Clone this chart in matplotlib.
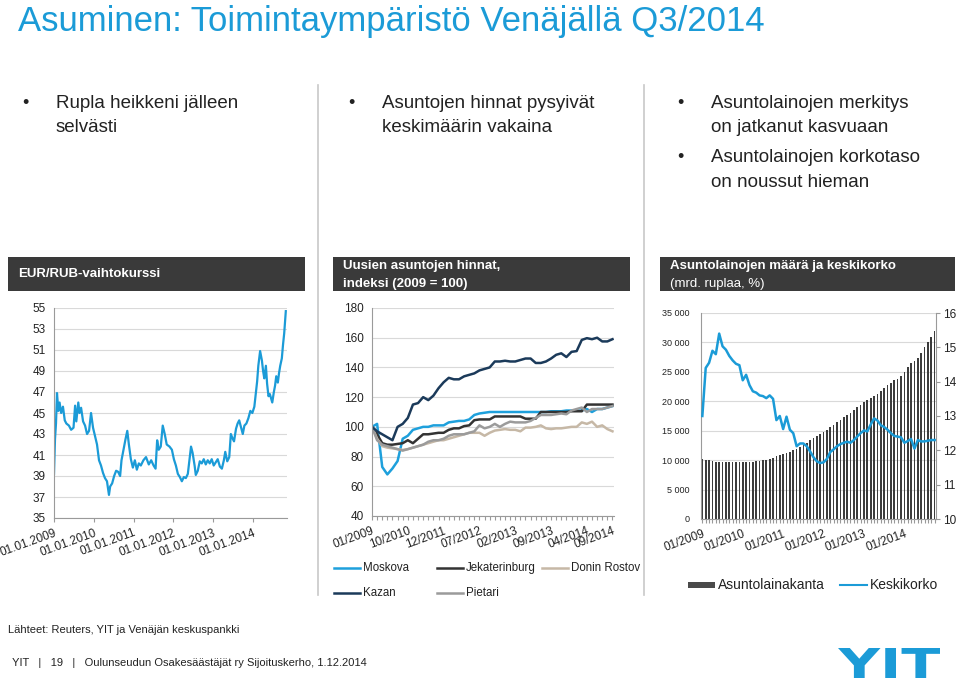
import matplotlib
matplotlib.use('Agg')
import matplotlib.pyplot as plt
from matplotlib.lines import Line2D
from matplotlib.patches import Rectangle, PathPatch
from matplotlib.textpath import TextPath
from matplotlib.font_manager import FontProperties
from matplotlib.transforms import Affine2D

plt.rcParams['font.family'] = ['Liberation Sans', 'DejaVu Sans']

############################### data ###############################

# EUR/RUB-vaihtokurssi (vuosi desimaalina, kurssi)
rub_year = [2009.00, 2009.025, 2009.05, 2009.075, 2009.11, 2009.14, 2009.18, 2009.225, 2009.27, 2009.31,
            2009.375, 2009.43, 2009.49, 2009.53, 2009.56, 2009.61, 2009.64, 2009.68, 2009.73, 2009.78,
            2009.83, 2009.88, 2009.93, 2009.98, 2010.03, 2010.08, 2010.13, 2010.18, 2010.23, 2010.28,
            2010.33, 2010.38, 2010.41, 2010.46, 2010.51, 2010.56, 2010.61, 2010.66, 2010.695, 2010.745,
            2010.795, 2010.84, 2010.88, 2010.93, 2010.98, 2011.03, 2011.08, 2011.13, 2011.18, 2011.245,
            2011.31, 2011.38, 2011.44, 2011.50, 2011.55, 2011.59, 2011.63, 2011.68, 2011.73, 2011.78,
            2011.83, 2011.90, 2011.96, 2012.01, 2012.06, 2012.11, 2012.16, 2012.21, 2012.26, 2012.31,
            2012.36, 2012.40, 2012.44, 2012.48, 2012.53, 2012.56, 2012.61, 2012.66, 2012.71, 2012.76,
            2012.81, 2012.86, 2012.91, 2012.96, 2013.01, 2013.06, 2013.11, 2013.165, 2013.215, 2013.265,
            2013.30, 2013.35, 2013.40, 2013.44, 2013.48, 2013.52, 2013.57, 2013.61, 2013.65, 2013.70,
            2013.74, 2013.78, 2013.83, 2013.88, 2013.93, 2013.98, 2014.03, 2014.07, 2014.10, 2014.13,
            2014.175, 2014.22, 2014.25, 2014.28, 2014.32, 2014.35, 2014.385, 2014.42, 2014.45, 2014.48,
            2014.52, 2014.55, 2014.58, 2014.62, 2014.65, 2014.68, 2014.72, 2014.75, 2014.78, 2014.82]
rub_rate = [39.2, 42.5, 44.0, 46.9, 45.2, 46.0, 45.0, 45.6, 44.3, 44.0,
            43.8, 43.4, 43.6, 45.7, 44.2, 46.0, 45.0, 45.5, 44.2, 43.8,
            43.0, 43.3, 45.0, 43.6, 42.8, 42.0, 40.5, 40.0, 39.3, 38.8,
            38.5, 37.2, 38.0, 38.3, 39.0, 39.5, 39.4, 39.0, 40.5, 41.5,
            42.5, 43.3, 42.0, 40.6, 39.8, 40.5, 39.6, 40.2, 40.0, 40.5,
            40.8, 40.1, 40.5, 40.0, 39.7, 42.4, 41.5, 41.8, 43.8, 43.0,
            42.0, 41.8, 41.5, 40.6, 40.0, 39.2, 38.9, 38.5, 38.9, 38.8,
            39.2, 40.5, 41.8, 41.2, 40.0, 39.1, 39.5, 40.4, 40.2, 40.6,
            40.1, 40.5, 40.2, 40.6, 40.0, 40.3, 40.6, 39.9, 39.7, 40.5,
            41.3, 40.4, 40.8, 43.0, 42.6, 42.3, 43.5, 44.0, 44.3, 43.6,
            43.0, 43.8, 44.0, 44.5, 45.2, 45.0, 45.6, 47.0, 48.0, 49.5,
            50.9, 50.0, 49.0, 48.3, 49.5, 47.8, 46.6, 46.8, 46.4, 46.0,
            47.0, 47.6, 48.5, 47.9, 48.8, 49.5, 50.2, 51.5, 52.6, 54.7]
rub_years = [2009, 2010, 2011, 2012, 2013, 2014]

# Uusien asuntojen hinnat, indeksi (2009 = 100)
price_periods = ['01/2009', '04/2009', '07/2009', '10/2009', '01/2010', '04/2010', '07/2010', '10/2010',
                 '12/2010', '02/2011', '04/2011', '06/2011', '08/2011', '10/2011', '12/2011',
                 '01/2012', '02/2012', '03/2012', '04/2012', '05/2012', '06/2012', '07/2012', '08/2012',
                 '09/2012', '10/2012', '11/2012', '12/2012', '01/2013', '02/2013', '03/2013', '04/2013',
                 '05/2013', '06/2013', '07/2013', '08/2013', '09/2013', '10/2013', '11/2013', '12/2013',
                 '01/2014', '02/2014', '03/2014', '04/2014', '05/2014', '06/2014', '07/2014', '08/2014',
                 '09/2014']
moskova = [100, 102, 73, 68, 72, 77, 92, 94, 98, 99, 100, 100, 101, 101, 101, 103,
           103.5, 104, 104, 105, 108, 109, 109.5, 110, 110, 110, 110, 110, 110, 110, 110, 110,
           110, 110, 110, 110.5, 110.5, 110.5, 111, 111, 111, 111, 112, 110, 112, 112, 113, 114]
jekaterinburg = [100, 95, 89, 88, 88, 88.5, 89, 91, 89, 92, 95, 95, 95.5, 96, 96, 98,
                 99, 99, 100.5, 101, 104.5, 105, 105, 105, 107, 107, 107, 107, 107, 107, 105.5, 105.5,
                 105.5, 110, 110, 110, 110, 110, 110, 110.5, 110.5, 110.5, 115, 115, 115, 115, 115, 115]
donin_rostov = [100, 92, 87, 86, 85.5, 85, 84.5, 85, 86, 87, 88, 89, 90, 91, 91, 92,
                93, 94, 95, 96, 96, 96, 94, 96, 97.5, 98, 98.5, 98, 98, 97, 99.5, 99.5,
                100, 101, 99, 98.5, 99, 99, 99.5, 100, 100, 103, 102, 103.5, 100, 101, 98.5, 97]
kazan = [100, 97, 95, 93, 91, 100, 102, 106, 115, 116, 120, 118, 121, 126, 130, 133,
         132, 132, 134, 135, 136, 138, 139, 140, 144, 144, 144.5, 144, 144, 145, 146, 146,
         143, 143, 144, 146, 148.5, 149.5, 147, 150.5, 151, 158.5, 159.7, 159, 160, 157.5, 157.5, 159]
pietari = [100, 91, 88, 87, 86, 85, 84, 85, 86, 87, 88, 90, 91, 91, 92, 94,
           95, 95, 95, 96, 97, 101, 99, 100, 102, 100, 102, 103.5, 103, 103, 103, 104,
           106, 108, 108, 108, 108.5, 109, 108.5, 111, 112, 113, 110, 112, 112, 112, 113, 114]

# Asuntolainojen määrä (mrd. ruplaa) ja keskikorko (%)
loan_periods = [f'{m:02d}/{y}' for y in range(2009, 2015) for m in range(1, 13)][:70]
loan_stock = [10200, 10100, 10000, 9850, 9750, 9700, 9650, 9650, 9650, 9650,
              9650, 9650, 9650, 9700, 9700, 9750, 9800, 9900, 10000, 10100,
              10250, 10400, 10650, 10900, 11100, 11250, 11400, 11650, 11900, 12200,
              12550, 12950, 13350, 13750, 14150, 14450, 14750, 15100, 15550, 16000,
              16450, 16850, 17250, 17650, 18050, 18550, 19000, 19400, 19850, 20150,
              20500, 20850, 21250, 21700, 22250, 22700, 23150, 23600, 23800, 24300,
              25000, 25800, 26500, 26800, 27400, 28200, 29300, 30100, 30900, 32000]
avg_rate = [13.0, 14.4, 14.55, 14.9, 14.8, 15.4, 15.03, 14.93, 14.75, 14.62,
            14.52, 14.48, 14.04, 14.2, 13.9, 13.72, 13.68, 13.6, 13.58, 13.52,
            13.6, 13.5, 12.88, 13.0, 12.62, 12.98, 12.6, 12.5, 12.12, 12.2,
            12.2, 12.12, 11.97, 11.8, 11.68, 11.63, 11.65, 11.75, 11.95, 12.03,
            12.12, 12.18, 12.22, 12.25, 12.22, 12.3, 12.4, 12.5, 12.58, 12.55,
            12.75, 12.93, 12.87, 12.73, 12.68, 12.6, 12.5, 12.42, 12.4, 12.38,
            12.22, 12.27, 12.33, 12.05, 12.3, 12.26, 12.26, 12.28, 12.3, 12.3]

############################### tyyli ###############################

BLUE = '#1b9bd7'
DARK = '#3a3a3a'
GRID = '#d9d9d9'
SPINE = '#9a9a9a'
TXT = '#222222'
city_colors = {'Moskova': '#1ea0dc', 'Jekaterinburg': '#333333', 'Donin Rostov': '#c6b8a6',
               'Kazan': '#1b3a5a', 'Pietari': '#9b9b9b'}

W, H = 960, 680
fig = plt.figure(figsize=(W / 100, H / 100), dpi=100)


def fx(x):
    return x / W


def fy(y):
    return 1 - y / H


def rect(x0, y0, x1, y1):  # pikselit (ylhäältä) -> figure-koordinaatit
    return [x0 / W, 1 - y1 / H, (x1 - x0) / W, (y1 - y0) / H]


def style_axes(ax):
    for s in ['top', 'right']:
        ax.spines[s].set_visible(False)
    for s in ['left', 'bottom']:
        ax.spines[s].set_color(SPINE)
    ax.grid(axis='y', color=GRID, lw=0.8)
    ax.set_axisbelow(True)
    ax.tick_params(axis='y', length=0, labelsize=8.5, labelcolor=TXT, pad=6)
    ax.tick_params(axis='x', length=3, color=SPINE, labelsize=8.5, labelcolor=TXT)


# otsikko
fig.text(fx(18), fy(31), 'Asuminen: Toimintaympäristö Venäjällä Q3/2014', fontsize=25,
         color=BLUE, va='baseline', ha='left')

# pystyviivat palstojen välissä
for x in [318, 644]:
    fig.add_artist(Line2D([fx(x), fx(x)], [fy(85), fy(595)], color='#c8c8c8', lw=1.2))

# luettelot
bullets = [(22, [(103, 'Rupla heikkeni jälleen'), (128, 'selvästi')]),
           (348, [(103, 'Asuntojen hinnat pysyivät'), (128, 'keskimäärin vakaina')]),
           (677, [(103, 'Asuntolainojen merkitys'), (128, 'on jatkanut kasvuaan'),
                  (158, 'Asuntolainojen korkotaso'), (183, 'on noussut hieman')])]
for bx, lines in bullets:
    for i, (y, txt) in enumerate(lines):
        if i % 2 == 0:
            fig.text(fx(bx), fy(y), '•', fontsize=13, color=TXT, va='center')
        fig.text(fx(bx + 34), fy(y), txt, fontsize=13.5, color=TXT, va='center')

# tummat otsikkolaatikot
headers = [(8, 305, [('EUR/RUB-vaihtokurssi', 'bold')]),
           (333, 630, [('Uusien asuntojen hinnat,', 'bold'), ('indeksi (2009 = 100)', 'bold')]),
           (660, 955, [('Asuntolainojen määrä ja keskikorko', 'bold'), ('(mrd. ruplaa, %)', 'normal')])]
for x0, x1, lines in headers:
    fig.add_artist(Rectangle((fx(x0), fy(291)), (x1 - x0) / W, 34 / H,
                             transform=fig.transFigure, color=DARK, lw=0))
    ys = [274] if len(lines) == 1 else [266, 284]
    for y, (txt, wt) in zip(ys, lines):
        fig.text(fx(x0 + 10), fy(y), txt, fontsize=9.5, color='white', fontweight=wt, va='center')

############################### kaavio 1 ###############################
ax1 = fig.add_axes(rect(54, 308, 287, 518))
ax1.plot(rub_year, rub_rate, color=BLUE, lw=1.6)
ax1.set_xlim(rub_year[0], rub_year[-1] + 0.03)
ax1.set_ylim(35, 55)
ax1.set_yticks(range(35, 56, 2))
ax1.set_xticks(rub_years)
ax1.set_xticklabels([f'01.01.{y}' for y in rub_years], rotation=20, ha='right',
                    rotation_mode='anchor')
style_axes(ax1)

############################### kaavio 2 ###############################
ax2 = fig.add_axes(rect(372, 308, 614, 516))
series = [('Moskova', moskova), ('Jekaterinburg', jekaterinburg), ('Donin Rostov', donin_rostov),
          ('Pietari', pietari), ('Kazan', kazan)]
idx = list(range(len(price_periods)))
for name, vals in series:
    ax2.plot(idx, vals, color=city_colors[name], lw=1.8, label=name)
ax2.set_xlim(0, len(price_periods) - 0.7)
ax2.set_ylim(40, 180)
ax2.set_yticks(range(40, 181, 20))
ax2.set_xticks(idx)
ax2.set_xticklabels([p if (i % 7 == 0 or i == len(idx) - 1) else '' for i, p in enumerate(price_periods)],
                    rotation=20, ha='right', rotation_mode='anchor')
style_axes(ax2)
ax2.tick_params(axis='x', length=3)

# selite (kaavio 2)
legend2 = [('Moskova', 334, 568), ('Jekaterinburg', 437, 568), ('Donin Rostov', 542, 568),
           ('Kazan', 334, 593), ('Pietari', 437, 593)]
for name, lx, ly in legend2:
    fig.add_artist(Line2D([fx(lx), fx(lx + 26)], [fy(ly), fy(ly)], color=city_colors[name], lw=1.8))
    fig.text(fx(lx + 29), fy(ly), name, fontsize=8.3, color=TXT, va='center')

############################### kaavio 3 ###############################
ax3 = fig.add_axes(rect(701, 313, 936, 519))
idx3 = list(range(len(loan_periods)))
ax3.bar(idx3, loan_stock, width=0.5, color='#3c3c3c', label='Asuntolainakanta')
ax3.set_xlim(-0.4, len(idx3) - 0.6)
ax3.set_ylim(0, 35000)
ax3.set_yticks(range(0, 35001, 5000))
ax3.set_yticklabels([f'{v:,}'.replace(',', ' ') for v in range(0, 35001, 5000)])
ax3.set_xticks(idx3)
ax3.set_xticklabels([p if p.startswith('01/') else '' for p in loan_periods],
                    rotation=20, ha='right', rotation_mode='anchor')
style_axes(ax3)
ax3.tick_params(axis='y', labelsize=6.5, pad=8)
ax3.tick_params(axis='x', length=3)

ax3r = ax3.twinx()
ax3r.plot(idx3, avg_rate, color=BLUE, lw=1.8, label='Keskikorko')
ax3r.set_ylim(10, 16)
ax3r.set_yticks(range(10, 17))
for s in ['top', 'left', 'bottom']:
    ax3r.spines[s].set_visible(False)
ax3r.spines['right'].set_color(SPINE)
ax3r.tick_params(axis='y', length=3, color=SPINE, labelsize=8.5, labelcolor=TXT, pad=2)

# selite (kaavio 3)
fig.add_artist(Rectangle((fx(688), fy(588)), 27 / W, 6 / H, transform=fig.transFigure,
                         color='#4a4a4a', lw=0))
fig.text(fx(718), fy(585), 'Asuntolainakanta', fontsize=10, color=TXT, va='center')
fig.add_artist(Line2D([fx(840), fx(867)], [fy(585), fy(585)], color=BLUE, lw=1.5))
fig.text(fx(870), fy(585), 'Keskikorko', fontsize=10, color=TXT, va='center')

############################### alatunniste ###############################
fig.text(fx(8), fy(630), 'Lähteet: Reuters, YIT ja Venäjän keskuspankki', fontsize=8, color=TXT,
         va='center')
fig.text(fx(12), fy(663), 'YIT   |   19   |   Oulunseudun Osakesäästäjät ry Sijoituskerho, 1.12.2014',
         fontsize=8, color=TXT, va='center')

# YIT-logo
tp = TextPath((0, 0), 'YIT', size=1, prop=FontProperties(family='DejaVu Sans', weight='bold'))
ext = tp.get_extents()
tr = (Affine2D().translate(-ext.x0, -ext.y0)
      .scale((940 - 838) / ext.width / W, 30 / ext.height / H)
      .translate(838 / W, (H - 678) / H) + fig.transFigure)
fig.add_artist(PathPatch(tp, transform=tr, color=BLUE, lw=0))

fig.savefig('out.png', dpi=100)
